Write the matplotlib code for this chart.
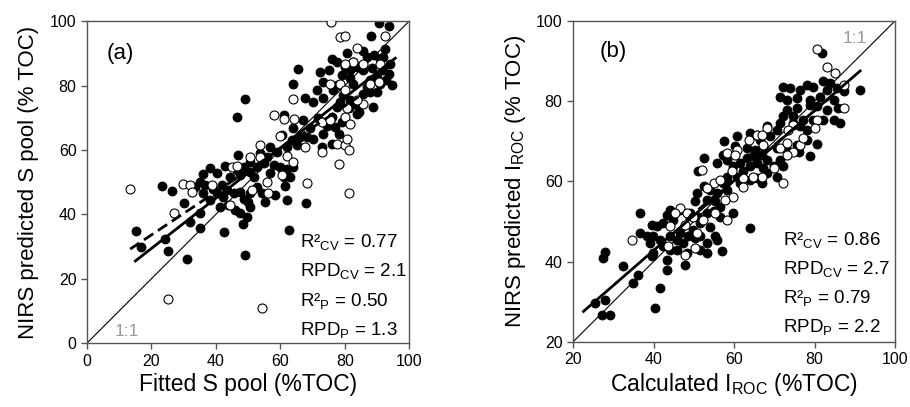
import matplotlib
matplotlib.use("Agg")
import matplotlib.pyplot as plt

plt.rcParams['font.family'] = ['Liberation Sans', 'DejaVu Sans']
plt.rcParams['mathtext.default'] = 'regular'

# ---- panel (a): S pool ----
a_cal_x = [90.8, 93.7, 88.1, 92.5, 80.6, 85.8, 76.0, 77.5, 82.7, 86.9, 91.0, 94.1, 92.0, 89.1,
           65.4, 72.4, 75.0, 80.1, 81.7, 83.7, 85.8, 88.4, 92.0, 93.6, 94.6, 92.9, 90.0, 87.9,
           81.7, 79.1, 73.4, 64.1, 77.5, 82.7, 86.9, 91.0, 71.3, 76.5, 79.6, 85.8, 87.9, 90.0,
           49.1, 67.7, 70.3, 73.4, 78.6, 81.7, 83.7, 77.5, 81.2, 88.7, 84.3, 46.7, 61.0, 67.2,
           71.8, 76.0, 79.1, 83.7, 74.4, 64.1, 69.3, 77.0, 73.4, 78.1, 60.5, 63.6, 66.2, 68.2,
           70.3, 65.1, 62.0, 58.9, 55.8, 53.7, 56.8, 72.9, 76.0, 47.0, 50.6, 42.9, 38.2, 40.3,
           46.5, 48.6, 50.6, 52.7, 54.8, 57.9, 59.9, 62.0, 64.1, 36.1, 44.4, 47.5, 51.7, 56.8,
           63.0, 61.0, 23.2, 26.3, 33.5, 35.1, 36.6, 39.2, 41.8, 43.4, 45.5, 47.5, 50.6, 52.7,
           54.2, 55.3, 58.4, 61.5, 62.0, 67.9, 40.3, 42.3, 48.6, 50.1, 36.1, 38.2, 30.1, 35.1,
           41.3, 43.9, 46.0, 47.5, 49.6, 50.6, 32.0, 35.1, 24.2, 25.3, 31.0, 42.6, 48.3, 62.8,
           49.1, 15.2, 16.7]
a_cal_y = [99.5, 98.4, 95.3, 91.2, 90.0, 90.8, 88.1, 87.4, 87.4, 88.9, 88.4, 86.8, 88.9, 89.4,
           85.0, 84.3, 84.8, 85.8, 84.8, 85.8, 84.8, 85.3, 84.8, 83.7, 80.1, 81.7, 82.7, 81.7,
           82.2, 83.2, 81.2, 80.4, 80.1, 80.6, 79.6, 80.6, 78.6, 78.6, 77.0, 77.5, 78.0, 78.0,
           75.8, 76.0, 75.0, 76.0, 75.0, 75.5, 73.9, 73.4, 72.9, 73.2, 71.8, 70.3, 70.8, 69.2,
           69.8, 70.3, 68.7, 71.3, 67.4, 66.7, 66.7, 67.2, 65.1, 65.1, 64.6, 63.0, 64.1, 64.1,
           63.5, 61.5, 61.0, 59.4, 57.9, 58.9, 61.0, 61.0, 62.0, 58.4, 56.3, 55.0, 54.5, 52.9,
           53.7, 54.7, 53.2, 54.7, 55.8, 55.3, 54.7, 54.2, 54.7, 52.5, 51.6, 52.2, 51.6, 52.7,
           51.6, 51.6, 48.9, 47.3, 48.5, 50.1, 49.1, 48.0, 49.1, 47.5, 46.5, 47.0, 46.5, 48.5,
           46.5, 43.9, 46.0, 48.7, 44.4, 43.4, 46.5, 45.4, 44.9, 43.9, 46.5, 44.4, 43.6, 40.3,
           42.3, 42.8, 41.3, 40.3, 39.2, 42.3, 37.7, 35.6, 32.2, 28.7, 26.1, 34.6, 37.0, 35.1,
           27.3, 34.9, 29.9]
a_val_x = [75.7, 78.6, 80.1, 92.5, 83.7, 82.7, 85.8, 80.1, 91.0, 75.5, 78.6, 80.1, 87.9, 90.5,
           64.1, 57.9, 61.0, 64.3, 72.9, 75.5, 80.1, 81.7, 80.6, 85.8, 83.7, 59.9, 53.7, 50.6,
           53.7, 67.7, 72.9, 77.5, 80.1, 81.2, 80.6, 78.1, 81.2, 68.2, 55.8, 56.3, 44.9, 46.5,
           29.9, 32.0, 32.5, 38.7, 51.1, 44.4, 27.0, 62.0, 64.1, 60.5, 13.4, 25.3, 54.3]
a_val_y = [99.8, 95.1, 95.3, 95.3, 91.8, 87.4, 86.8, 86.8, 86.8, 80.6, 80.6, 78.6, 80.6, 81.2,
           75.7, 70.8, 69.5, 69.5, 68.7, 69.2, 70.3, 68.2, 72.9, 74.2, 75.5, 64.3, 61.5, 57.9,
           57.9, 61.0, 59.4, 62.0, 61.5, 59.9, 63.5, 55.6, 46.7, 49.8, 50.1, 46.5, 54.7, 55.0,
           49.3, 49.1, 47.0, 49.1, 47.5, 42.8, 40.5, 58.1, 56.3, 52.2, 47.8, 13.6, 11.0]
a_fit_cal_x = [15, 95.7]
a_fit_cal_y = [25.5, 88.5]
a_fit_val_x = [13.4, 84.3]
a_fit_val_y = [29.2, 76.5]
a_stats = ['R²$_{CV}$ = 0.77', 'RPD$_{CV}$ = 2.1', 'R²$_{P}$ = 0.50', 'RPD$_{P}$ = 1.3']

# ---- panel (b): I_ROC ----
b_cal_x = [81.8, 91.3, 82.2, 83.8, 79.7, 72.2, 73.9, 76.4, 78.0, 83.0, 85.5, 87.2, 71.4, 73.1,
           75.6, 78.9, 81.4, 84.7, 85.9, 73.1, 75.6, 78.9, 80.5, 83.0, 72.2, 74.7, 77.2, 79.7,
           82.2, 84.7, 86.3, 74.7, 76.4, 78.0, 71.4, 70.6, 68.1, 68.9, 66.5, 64.0, 65.6, 60.7,
           57.5, 60.2, 63.1, 65.2, 67.3, 70.6, 73.1, 75.6, 78.0, 80.7, 78.9, 76.0, 52.5, 51.1,
           57.3, 55.7, 58.2, 59.8, 61.5, 63.1, 64.8, 66.9, 68.1, 65.6, 64.0, 67.3, 69.8, 68.1,
           62.3, 60.7, 58.2, 61.5, 64.0, 65.6, 66.9, 70.6, 72.2, 71.4, 52.5, 54.0, 55.7, 57.3,
           58.2, 50.7, 53.2, 55.3, 56.5, 50.3, 49.1, 51.1, 53.2, 54.9, 56.5, 59.8, 54.0, 51.5,
           49.9, 48.6, 46.6, 44.9, 43.3, 44.1, 46.6, 42.4, 40.8, 39.5, 36.6, 38.3, 39.9, 41.6,
           44.1, 45.8, 47.4, 50.3, 51.5, 55.3, 36.6, 39.1, 42.4, 44.1, 45.8, 48.2, 51.5, 53.2,
           55.7, 53.2, 56.9, 64.0, 39.9, 39.5, 43.3, 47.8, 32.5, 27.9, 27.5, 36.2, 35.0, 41.6,
           43.3, 25.5, 27.9, 27.1, 29.2, 40.4]
b_cal_y = [91.9, 82.8, 84.9, 84.5, 83.6, 83.6, 83.2, 82.8, 84.0, 82.8, 83.2, 82.4, 81.1, 80.3,
           80.7, 80.3, 81.1, 80.3, 78.2, 77.8, 78.2, 79.1, 78.7, 77.8, 76.2, 76.2, 75.3, 75.3,
           75.3, 75.3, 74.5, 74.5, 73.7, 72.8, 74.5, 72.8, 73.7, 71.2, 70.3, 72.0, 71.6, 71.2,
           70.1, 68.8, 68.3, 67.9, 68.7, 68.3, 67.9, 69.1, 70.3, 69.3, 66.2, 67.4, 65.8, 62.5,
           66.6, 64.5, 65.4, 63.7, 64.5, 65.8, 66.2, 66.6, 65.4, 64.5, 63.7, 63.3, 63.7, 62.0,
           62.5, 61.2, 61.2, 59.5, 60.4, 60.8, 59.5, 61.2, 63.7, 65.4, 58.9, 57.9, 57.1, 59.5,
           57.9, 57.1, 55.4, 55.0, 53.7, 55.0, 52.1, 51.2, 52.1, 52.5, 51.2, 52.1, 48.7, 49.6,
           47.9, 46.3, 47.1, 50.4, 51.6, 52.9, 52.9, 49.6, 48.8, 49.2, 47.1, 46.3, 46.3, 45.4,
           46.3, 45.4, 44.6, 45.8, 46.3, 46.3, 52.1, 44.6, 43.8, 42.9, 42.9, 42.1, 42.9, 44.6,
           45.4, 42.1, 42.7, 48.3, 42.1, 41.3, 40.4, 39.2, 38.8, 42.5, 40.8, 36.7, 34.6, 33.4,
           37.9, 29.8, 30.5, 26.7, 26.7, 28.4]
b_val_x = [80.7, 83.0, 85.1, 87.2, 87.2, 80.5, 80.1, 74.7, 73.5, 68.1, 65.6, 63.6, 66.9, 67.3,
           71.4, 73.1, 74.7, 76.4, 77.2, 73.1, 60.7, 58.2, 60.2, 59.4, 62.3, 66.9, 69.8, 72.2,
           64.8, 54.9, 56.5, 52.0, 53.2, 59.8, 57.8, 62.3, 46.6, 48.2, 45.3, 49.9, 52.4, 55.3,
           58.2, 47.8, 44.1, 50.7, 43.7, 47.8, 50.3, 34.6]
b_val_y = [92.9, 88.6, 87.1, 84.0, 78.2, 75.3, 73.3, 74.1, 72.8, 73.3, 71.6, 70.3, 71.6, 69.1,
           68.3, 69.5, 67.4, 69.1, 70.8, 66.6, 67.8, 67.0, 66.6, 62.5, 60.8, 61.2, 63.3, 59.5,
           61.2, 59.5, 60.4, 62.9, 58.3, 56.2, 55.4, 58.7, 53.3, 52.1, 52.1, 51.2, 50.4, 52.1,
           50.4, 49.2, 48.8, 47.1, 43.8, 41.7, 43.3, 45.4]
b_fit_cal_x = [22.6, 91.3]
b_fit_cal_y = [27.6, 87.5]
b_fit_val_x = [48, 84]
b_fit_val_y = [50.3, 81.0]
b_stats = ['R²$_{CV}$ = 0.86', 'RPD$_{CV}$ = 2.7', 'R²$_{P}$ = 0.79', 'RPD$_{P}$ = 2.2']

fig = plt.figure(figsize=(9.10, 4.07), dpi=100)
ax1 = fig.add_axes([0.0956, 0.157, 0.354, 0.791])
ax2 = fig.add_axes([0.6297, 0.160, 0.354, 0.789])


def draw_panel(ax, lo, cal_x, cal_y, val_x, val_y, fcx, fcy, fvx, fvy, stats, tx, ty0, dy):
    ax.plot([lo, 100], [lo, 100], color='black', lw=0.8, zorder=1)
    ax.scatter(cal_x, cal_y, s=42, facecolor='black', edgecolor='black', lw=0.6, zorder=2)
    ax.scatter(val_x, val_y, s=42, facecolor='white', edgecolor='black', lw=0.8, zorder=3)
    ax.plot(fcx, fcy, color='black', lw=2, zorder=4)
    ax.plot(fvx, fvy, color='black', lw=2, ls=(0, (4, 2)), zorder=4)
    ax.set_xlim(lo, 100)
    ax.set_ylim(lo, 100)
    ax.set_xticks(range(lo, 101, 20))
    ax.set_yticks(range(lo, 101, 20))
    for sp in ax.spines.values():
        sp.set_color('#555555')
        sp.set_linewidth(1)
    ax.tick_params(direction='out', length=4, width=1, color='#555555', labelsize=11.5)
    for i, s in enumerate(stats):
        ax.text(tx, ty0 - i * dy, s, fontsize=13.5, va='baseline', ha='left', zorder=5)


draw_panel(ax1, 0, a_cal_x, a_cal_y, a_val_x, a_val_y, a_fit_cal_x, a_fit_cal_y,
           a_fit_val_x, a_fit_val_y, a_stats, 66, 29.8, 9.1)
ax1.text(6, 90, '(a)', fontsize=16, va='center')
ax1.text(8.5, 2.2, '1:1', fontsize=12.5, color='#999999', va='baseline')
ax1.set_xlabel('Fitted S pool (%TOC)', fontsize=16.5, labelpad=3)
ax1.set_ylabel('NIRS predicted S pool (% TOC)', fontsize=16, labelpad=8)

draw_panel(ax2, 20, b_cal_x, b_cal_y, b_val_x, b_val_y, b_fit_cal_x, b_fit_cal_y,
           b_fit_val_x, b_fit_val_y, b_stats, 72.2, 44.2, 7.25)
ax2.text(26.5, 92.3, '(b)', fontsize=16, va='center')
ax2.text(93, 94.5, '1:1', fontsize=12.5, color='#999999', va='baseline', ha='right')
ax2.set_xlabel('Calculated I$_{ROC}$ (%TOC)', fontsize=16.5, labelpad=3)
ax2.set_ylabel('NIRS predicted I$_{ROC}$ (% TOC)', fontsize=16, labelpad=6)

fig.savefig('out.png', dpi=100)
